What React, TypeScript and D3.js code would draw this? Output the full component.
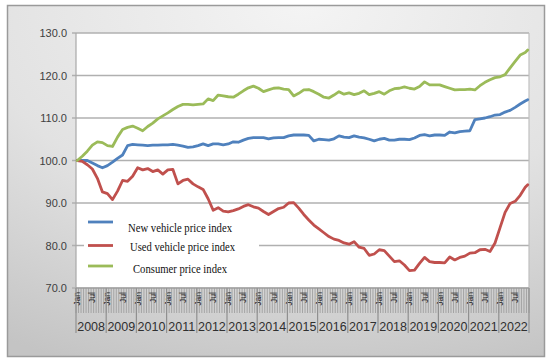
import React from "react";
import * as d3 from "d3";

const years = [2008, 2009, 2010, 2011, 2012, 2013, 2014, 2015, 2016, 2017, 2018, 2019, 2020, 2021, 2022];
const monthTickLabels = ["Jan", "Jul"];
const yTicks = [70, 80, 90, 100, 110, 120, 130];

// month offsets from Jan 2008 at which values were read
const sampleMonths = [
  0, 2, 4, 6, 8, 10, 12, 14, 16, 18,
  20, 22, 24, 26, 28, 30, 32, 34, 36, 38,
  40, 42, 44, 46, 48, 50, 52, 54, 56, 58,
  60, 62, 64, 66, 68, 70, 72, 74, 76, 78,
  80, 82, 84, 86, 88, 90, 92, 94, 96, 98,
  100, 102, 104, 106, 108, 110, 112, 114, 116, 118,
  120, 122, 124, 126, 128, 130, 132, 134, 136, 138,
  140, 142, 144, 146, 148, 150, 152, 154, 156, 158,
  160, 162, 164, 166, 168, 170, 172, 174, 176, 178,
  179,
];

const newVehicle = [
  100, 100, 100, 99.4, 98.8, 98.3, 98.8, 99.6, 100.5, 101.3,
  103.5, 103.8, 103.7, 103.6, 103.5, 103.6, 103.6, 103.7, 103.7, 103.8,
  103.6, 103.4, 103.1, 103.2, 103.5, 103.9, 103.5, 103.9, 103.9, 103.7,
  103.9, 104.4, 104.3, 104.8, 105.2, 105.4, 105.4, 105.4, 105.1, 105.3,
  105.4, 105.4, 105.8, 106.0, 106.0, 106.0, 105.9, 104.6, 105.0, 104.9,
  104.8, 105.1, 105.8, 105.5, 105.4, 105.8, 105.5, 105.3, 105.0, 104.6,
  105.0, 105.2, 104.8, 104.8, 105.0, 105.0, 104.9, 105.3, 105.9, 106.1,
  105.8, 106.0, 106.0, 105.9, 106.7, 106.5, 106.8, 106.9, 107.0, 109.6,
  109.8, 110.0, 110.3, 110.7, 110.8, 111.4, 111.8, 112.5, 113.3, 114.0,
  114.3,
];

const usedVehicle = [
  100, 99.8, 99.0, 98.0, 95.8, 92.6, 92.2, 90.8, 92.8, 95.3,
  95.1, 96.3, 98.3, 97.8, 98.1, 97.4, 97.8, 96.8, 97.8, 97.9,
  94.5, 95.3, 95.6, 94.5, 93.8, 93.2, 91.0, 88.3, 88.9, 88.1,
  87.9, 88.2, 88.6, 89.2, 89.6, 89.1, 88.8, 88.0, 87.3, 88.0,
  88.7, 89.0, 90.0, 90.1, 88.8, 87.3, 86.0, 84.8, 83.9, 83.0,
  82.1, 81.5, 81.2, 80.6, 80.3, 80.9, 79.6, 79.3, 77.7, 78.0,
  79.0, 78.8, 77.5, 76.2, 76.4, 75.4, 74.1, 74.2, 75.8, 77.2,
  76.2, 76.0, 76.0, 75.9, 77.3, 76.6, 77.2, 77.5, 78.2, 78.3,
  79.0, 79.1, 78.6, 80.6, 84.2, 87.8, 89.9, 90.4, 91.8, 93.7,
  94.3,
];

const consumerPrice = [
  100, 101.0, 102.2, 103.6, 104.4, 104.2, 103.5, 103.3, 105.5, 107.3,
  107.8, 108.1, 107.6, 107.0, 108.0, 108.8, 109.8, 110.5, 111.2, 112.0,
  112.7, 113.2, 113.2, 113.1, 113.2, 113.3, 114.5, 114.1, 115.4, 115.2,
  115.0, 114.9, 115.6, 116.4, 117.1, 117.5, 117.0, 116.2, 116.6, 117.0,
  117.1, 116.8, 116.7, 115.2, 115.8, 116.6, 116.7, 116.2, 115.6, 114.9,
  114.7, 115.4, 116.2, 115.6, 115.9, 115.5, 115.8, 116.4, 115.5, 115.8,
  116.2, 115.6, 116.4, 116.9, 117.0, 117.3, 117.0, 116.8, 117.4, 118.5,
  117.8, 117.8, 117.8, 117.4, 117.0, 116.6, 116.7, 116.7, 116.8, 116.6,
  117.6, 118.4, 119.0, 119.5, 119.7, 120.2, 121.8, 123.3, 124.8, 125.4,
  126.0,
];

const seriesNames = ["New vehicle price index", "Used vehicle price index", "Consumer price index"];
const seriesColors = ["#4f81bd", "#c0504d", "#9bbb59"];

const W = 554;
const H = 363;
const PL = 76, PR = 529, PT = 33, PB = 288;

export default function App() {
  const months = d3.range(years.length * 12);
  const x = d3.scaleBand<number>().domain(months).range([PL, PR]).paddingInner(0).paddingOuter(0);
  const y = d3.scaleLinear().domain([70, 130]).range([PB, PT]);
  const cx = (m: number) => (x(m) as number) + x.bandwidth() / 2;

  const line = d3
    .line<number>()
    .x((_, i) => cx(sampleMonths[i]))
    .y((v) => y(v))
    .curve(d3.curveLinear);

  const series = [newVehicle, usedVehicle, consumerPrice];
  const legendY = [222, 245.5, 266];
  const legendTextY = [232, 251, 273];
  const legendTextX = [128, 130, 133];
  const legendTextLen = [104, 105, 94];

  return (
    <svg width={W} height={H} style={{ position: "absolute", left: 0, top: 0 }} fontFamily="'Liberation Sans', Arial, sans-serif">
      <defs>
        <radialGradient id="frameGrad" cx="55%" cy="0%" r="110%" fx="55%" fy="0%">
          <stop offset="0%" stopColor="#f4f4f4" />
          <stop offset="55%" stopColor="#e2e2e2" />
          <stop offset="100%" stopColor="#c4c4c4" />
        </radialGradient>
      </defs>
      <rect x={0} y={0} width={W} height={H} fill="#ffffff" />
      <rect x={7.5} y={5.5} width={537} height={351} fill="url(#frameGrad)" stroke="#9a9a9a" strokeWidth={1.5} />

      {/* plot area */}
      <rect x={PL} y={PT} width={PR - PL} height={PB - PT} fill="#ffffff" />
      {yTicks.map((t) => (
        <line key={"g" + t} x1={PL - 4} x2={PR} y1={y(t)} y2={y(t)} stroke="#b0b0b0" strokeWidth={1.4} />
      ))}
      <line x1={PL} x2={PL} y1={PT} y2={PB} stroke="#a8a8a8" strokeWidth={1.2} />
      <line x1={PR} x2={PR} y1={PT} y2={PB} stroke="#c0c0c0" strokeWidth={1.2} />
      {yTicks.map((t) => (
        <text key={"yl" + t} x={67} y={y(t) + 4} textAnchor="end" fontSize={11} fill="#404040">
          {t.toFixed(1)}
        </text>
      ))}

      {/* month ticks band */}
      {d3.range(months.length + 1).map((i) => {
        const xx = i < months.length ? (x(i) as number) : PR;
        return <line key={"mt" + i} x1={xx} x2={xx} y1={PB} y2={313} stroke="#a4a4a4" strokeWidth={1} />;
      })}
      {months
        .filter((m) => m % 6 === 0)
        .map((m) => (
          <text
            key={"ml" + m}
            transform={`translate(${cx(m) + 3},${292}) rotate(-90)`}
            textAnchor="end"
            fontSize={8.5}
            fill="#202020"
          >
            {monthTickLabels[(m % 12) / 6]}
          </text>
        ))}
      {years.map((yr, i) => (
        <line key={"yd" + yr} x1={x(i * 12) as number} x2={x(i * 12) as number} y1={PB} y2={333} stroke="#909090" strokeWidth={1.2} />
      ))}
      <line x1={PR} x2={PR} y1={PB} y2={333} stroke="#909090" strokeWidth={1.2} />
      <line x1={PL} x2={PR} y1={PB} y2={PB} stroke="#9a9a9a" strokeWidth={1.2} />
      {years.map((yr, i) => (
        <text key={"yt" + yr} x={(x(i * 12) as number) + x.bandwidth() * 6} y={330.5} textAnchor="middle" fontSize={12.5} fill="#303030">
          {yr}
        </text>
      ))}

      {/* legend box */}
      <rect x={84} y={214} width={175} height={72} fill="#ffffff" />

      {/* series */}
      {series.map((s, i) => (
        <path key={"s" + i} d={line(s) || ""} fill="none" stroke={seriesColors[i]} strokeWidth={2.8} strokeLinejoin="round" strokeLinecap="round" />
      ))}

      {/* legend */}
      {seriesNames.map((n, i) => (
        <g key={"lg" + i}>
          <line x1={88} x2={113} y1={legendY[i]} y2={legendY[i]} stroke={seriesColors[i]} strokeWidth={2.8} />
          <text
            x={legendTextX[i]}
            y={legendTextY[i]}
            fontFamily="'Liberation Serif', 'Times New Roman', serif"
            fontSize={12.5}
            textLength={legendTextLen[i]}
            lengthAdjust="spacingAndGlyphs"
            fill="#111111"
          >
            {n}
          </text>
        </g>
      ))}
    </svg>
  );
}
